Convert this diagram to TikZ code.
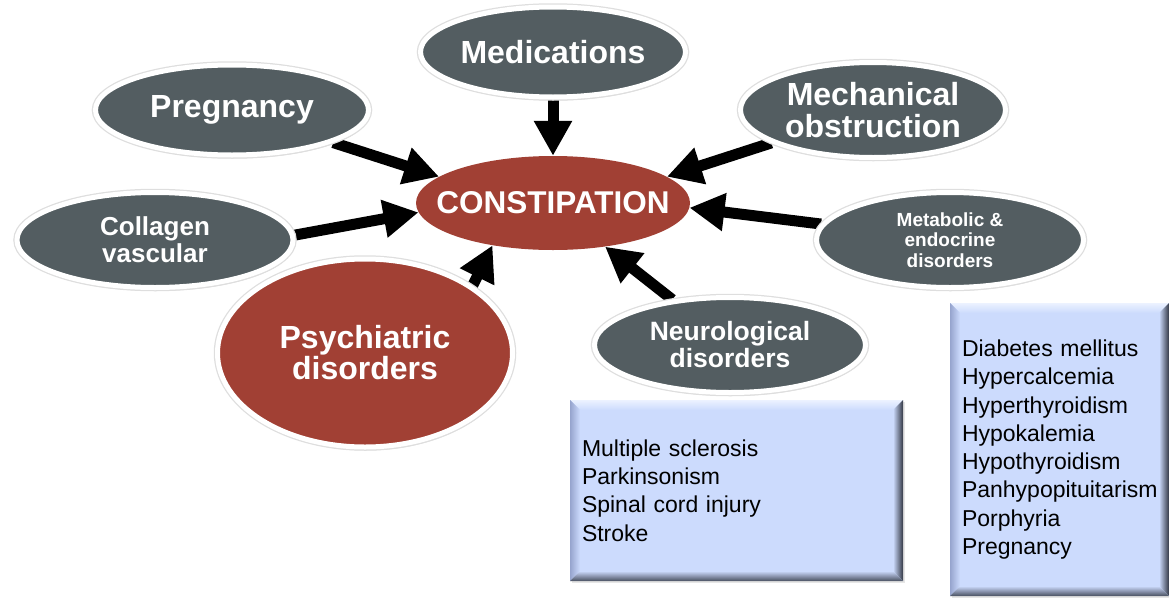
\documentclass[tikz,border=0pt]{standalone}
\usepackage{fontspec}
\setmainfont{Liberation Sans}
\usetikzlibrary{shapes.geometric,arrows.meta,shadows}
\definecolor{slate}{RGB}{83,93,97}
\definecolor{brick}{RGB}{161,64,52}
\definecolor{paleblue}{RGB}{204,219,253}
\definecolor{bevlight}{RGB}{236,242,255}
\definecolor{bevleft}{RGB}{150,164,205}
\definecolor{bevdark}{RGB}{50,55,68}
\newcommand\setfs[2]{\fontsize{#1}{#2}\selectfont}
\pgfdeclarelayer{back}
\pgfsetlayers{back,main}
\begin{document}
\begin{tikzpicture}[x=1pt,y=-1pt,
  cause/.style={ellipse, fill=slate, draw=white, line width=5pt, inner sep=0pt,
    text=white, align=center,
    drop shadow={opacity=0.3, shadow xshift=1pt, shadow yshift=-3.5pt},
    preaction={draw=black!13, line width=7.5pt}},
  causered/.style={cause, fill=brick},
  hub/.style={ellipse, fill=brick, inner sep=0pt, inner xsep=-25pt, text=white, align=center},
  arr/.style={line width=11pt, -{Triangle[length=35pt,width=36pt]}},
  listbox/.style={rectangle, fill=paleblue, inner sep=0pt, inner xsep=12pt,
    align=left, text=black, font=\setfs{23}{28.3},
    drop shadow={opacity=0.2, shadow xshift=2pt, shadow yshift=-2pt},
    path picture={
      \coordinate (nw) at (path picture bounding box.north west);
      \coordinate (ne) at (path picture bounding box.north east);
      \coordinate (sw) at (path picture bounding box.south west);
      \coordinate (se) at (path picture bounding box.south east);
      \shade[top color=bevlight, bottom color=paleblue] (nw) -- (ne) -- ([xshift=-10pt,yshift=-10pt]ne) -- ([xshift=10pt,yshift=-10pt]nw) -- cycle;
      \shade[left color=bevleft, right color=paleblue] (nw) -- ([xshift=10pt,yshift=-10pt]nw) -- ([xshift=10pt,yshift=10pt]sw) -- (sw) -- cycle;
      \shade[left color=paleblue, right color=bevdark] (ne) -- (se) -- ([xshift=-10pt,yshift=10pt]se) -- ([xshift=-10pt,yshift=-10pt]ne) -- cycle;
      \shade[top color=paleblue, bottom color=bevdark!85!paleblue] (sw) -- (se) -- ([xshift=-10pt,yshift=10pt]se) -- ([xshift=10pt,yshift=10pt]sw) -- cycle;
    }},
]
\useasboundingbox (0,0) rectangle (1169,597);

\node[hub, minimum width=274pt, minimum height=94pt, font=\bfseries\setfs{31.5}{33}] (cons) at (553,203) {CONSTIPATION};

\node[cause, minimum width=265pt, minimum height=90pt, font=\bfseries\setfs{32}{34}] (med) at (553,52) {Medications};
\node[cause, minimum width=273pt, minimum height=90pt, font=\bfseries\setfs{32}{34}] (preg) at (232,110) {Pregnancy};
\node[cause, minimum width=265pt, minimum height=95pt, font=\bfseries\setfs{32}{32}] (mech) at (873,110) {Mechanical\\obstruction};
\node[cause, minimum width=276pt, minimum height=95pt, font=\bfseries\setfs{26}{27}] (coll) at (155,240) {Collagen\\vascular};
\node[cause, minimum width=267pt, minimum height=95pt, font=\bfseries\setfs{19}{20.5}] (meta) at (950,240) {Metabolic \&\\endocrine\\disorders};
\node[causered, minimum width=295pt, minimum height=188pt, font=\bfseries\setfs{32}{31}] (psych) at (365,353) {Psychiatric\\disorders};
\node[cause, minimum width=271pt, minimum height=95pt, font=\bfseries\setfs{26.5}{27}] (neuro) at (730,345) {Neurological\\disorders};

\node[listbox, text width=309pt, minimum height=181pt] (nbox) at (736.5,490.5)
  {Multiple sclerosis\\Parkinsonism\\Spinal cord injury\\Stroke};
\node[listbox, text width=195pt, minimum height=293pt] (mbox) at (1059.5,449.5)
  {Diabetes mellitus\\Hypercalcemia\\Hyperthyroidism\\Hypokalemia\\Hypothyroidism\\Panhypopituitarism\\Porphyria\\Pregnancy};

\begin{pgfonlayer}{back}
  \draw[arr] (med) -- (cons.90);
  \draw[arr] (preg) -- (cons.167);
  \draw[arr] (coll.2) -- (cons.184);
  \draw[arr] (mech) -- (cons.13);
  \draw[arr] (meta) -- (cons.-2);
  \draw[arr] (neuro) -- (cons.-40);
  \draw[arr] (psych.32) -- (cons.215);
\end{pgfonlayer}
\end{tikzpicture}
\end{document}
